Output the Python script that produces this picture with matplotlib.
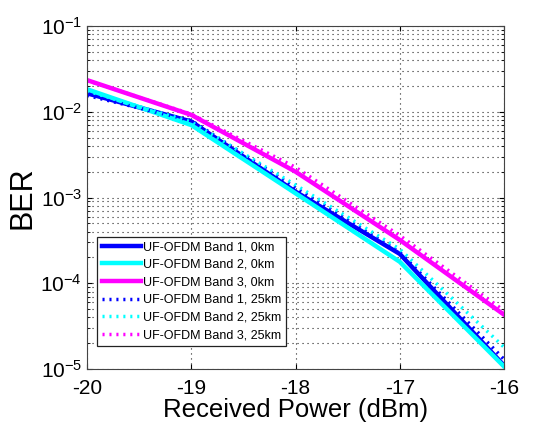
import matplotlib.pyplot as plt
import numpy as np

plt.rcParams['font.family'] = ['Liberation Sans', 'DejaVu Sans']
plt.rcParams['mathtext.fontset'] = 'custom'
plt.rcParams['mathtext.rm'] = 'Liberation Sans'
plt.rcParams['mathtext.it'] = 'Liberation Sans'

power = [-20, -19, -18, -17, -16]

ber_b1_0 = [0.0164, 0.0077, 0.00117, 2.2e-4, 1.1e-5]
ber_b2_0 = [0.0183, 0.0070, 0.00112, 1.78e-4, 1.07e-5]
ber_b3_0 = [0.0234, 0.0092, 0.0020, 3.2e-4, 4.3e-5]
ber_b1_25 = [0.0155, 0.0079, 0.00130, 2.3e-4, 1.3e-5]
ber_b2_25 = [0.0175, 0.0076, 0.00140, 2.5e-4, 1.8e-5]
ber_b3_25 = [0.0232, 0.0094, 0.00225, 3.6e-4, 4.8e-5]

labels = ["UF-OFDM Band 1, 0km", "UF-OFDM Band 2, 0km", "UF-OFDM Band 3, 0km",
          "UF-OFDM Band 1, 25km", "UF-OFDM Band 2, 25km", "UF-OFDM Band 3, 25km"]
colors = ['#0000ff', '#00ffff', '#ff00ff']

fig = plt.figure(figsize=(5.44, 4.25), dpi=100)
ax = fig.add_axes([87 / 544, 1 - 369 / 425, (504 - 87) / 544, (369 - 26) / 425])

for i, y in enumerate([ber_b1_0, ber_b2_0, ber_b3_0]):
    ax.semilogy(power, y, color=colors[i], lw=3.2, label=labels[i])
for i, y in enumerate([ber_b1_25, ber_b2_25, ber_b3_25]):
    ax.semilogy(power, y, color=colors[i], lw=2.5, ls=(0, (0.6, 1.4)), label=labels[i + 3])

ax.set_xlim(-20, -16)
ax.set_ylim(1e-5, 1e-1)
ax.set_xticks([-20, -19, -18, -17, -16])
ax.set_xticklabels(['-20', '-19', '-18', '-17', '-16'])
ax.grid(True, which='major', ls=(0, (1, 3.5)), color='#222222', lw=0.8)
ax.grid(True, which='minor', axis='y', ls=(0, (1, 3.5)), color='#222222', lw=0.8)
ax.tick_params(which='both', direction='in', labelsize=15, top=True, right=True)
ax.tick_params(axis='x', pad=7)
for s in ax.spines.values():
    s.set_color('#444444')

ax.set_xlabel('Received Power (dBm)', fontsize=18.5, labelpad=0)
ax.set_ylabel('BER', fontsize=22, labelpad=2)

leg = ax.legend(loc='lower left', bbox_to_anchor=(0.01, 0.05), fontsize=9,
                handlelength=3.1, handletextpad=0.2, labelspacing=0.45,
                borderpad=0.35, fancybox=False, framealpha=1, edgecolor='#222222')
leg.get_frame().set_linewidth(0.9)

fig.savefig('out.png', dpi=100)
